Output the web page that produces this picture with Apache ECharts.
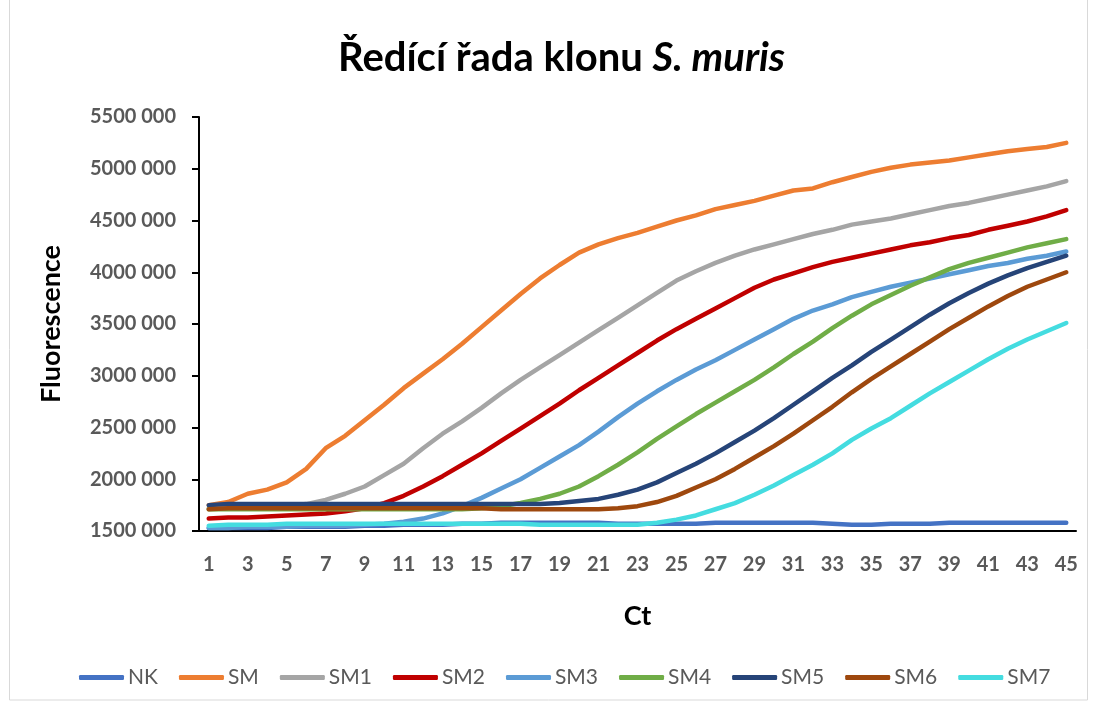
<!DOCTYPE html>
<html>
<head>
<meta charset="utf-8">
<title>Ředící řada klonu S. muris</title>
<script src="https://cdn.jsdelivr.net/npm/echarts@6/dist/echarts.min.js"></script>
<style>
  html, body { margin: 0; padding: 0; background: #fff; }
  #chart { width: 1094px; height: 706px; }
</style>
</head>
<body>
<div id="chart"></div>
<script>
// cycles 1..45
const cycles = Array.from({ length: 45 }, (_, i) => String(i + 1))

// fluorescence in millions
const NK = [1.53, 1.53, 1.53, 1.53, 1.54, 1.54, 1.54, 1.54, 1.55, 1.55, 1.56, 1.56, 1.56, 1.57, 1.57,
  1.58, 1.58, 1.58, 1.58, 1.58, 1.58, 1.57, 1.57, 1.57, 1.57, 1.57, 1.58, 1.58, 1.58, 1.58,
  1.58, 1.58, 1.57, 1.56, 1.56, 1.57, 1.57, 1.57, 1.58, 1.58, 1.58, 1.58, 1.58, 1.58, 1.58]
const SM = [1.75, 1.78, 1.86, 1.90, 1.97, 2.10, 2.30, 2.42, 2.57, 2.72, 2.88, 3.02, 3.16, 3.31, 3.47,
  3.63, 3.79, 3.94, 4.07, 4.19, 4.27, 4.33, 4.38, 4.44, 4.50, 4.55, 4.61, 4.65, 4.69, 4.74,
  4.79, 4.81, 4.87, 4.92, 4.97, 5.01, 5.04, 5.06, 5.08, 5.11, 5.14, 5.17, 5.19, 5.21, 5.25]
const SM1 = [1.72, 1.72, 1.73, 1.73, 1.74, 1.76, 1.80, 1.86, 1.93, 2.04, 2.15, 2.30, 2.44, 2.56, 2.69,
  2.83, 2.96, 3.08, 3.20, 3.32, 3.44, 3.56, 3.68, 3.80, 3.92, 4.01, 4.09, 4.16, 4.22, 4.27,
  4.32, 4.37, 4.41, 4.46, 4.49, 4.52, 4.56, 4.60, 4.64, 4.67, 4.71, 4.75, 4.79, 4.83, 4.88]
const SM2 = [1.62, 1.63, 1.63, 1.64, 1.65, 1.66, 1.67, 1.69, 1.72, 1.77, 1.84, 1.93, 2.03, 2.14, 2.25,
  2.37, 2.49, 2.61, 2.73, 2.86, 2.98, 3.10, 3.22, 3.34, 3.45, 3.55, 3.65, 3.75, 3.85, 3.93,
  3.99, 4.05, 4.10, 4.14, 4.18, 4.22, 4.26, 4.29, 4.33, 4.36, 4.41, 4.45, 4.49, 4.54, 4.60]
const SM3 = [1.53, 1.53, 1.54, 1.54, 1.54, 1.55, 1.55, 1.55, 1.56, 1.57, 1.59, 1.62, 1.67, 1.74, 1.82,
  1.91, 2.00, 2.11, 2.22, 2.33, 2.46, 2.60, 2.73, 2.85, 2.96, 3.06, 3.15, 3.25, 3.35, 3.45,
  3.55, 3.63, 3.69, 3.76, 3.81, 3.86, 3.90, 3.94, 3.98, 4.02, 4.06, 4.09, 4.13, 4.16, 4.20]
const SM4 = [1.71, 1.71, 1.71, 1.71, 1.71, 1.71, 1.71, 1.71, 1.71, 1.71, 1.71, 1.71, 1.71, 1.71, 1.72,
  1.74, 1.77, 1.81, 1.86, 1.93, 2.03, 2.14, 2.26, 2.39, 2.51, 2.63, 2.74, 2.85, 2.96, 3.08,
  3.21, 3.33, 3.46, 3.58, 3.69, 3.78, 3.87, 3.95, 4.03, 4.09, 4.14, 4.19, 4.24, 4.28, 4.32]
const SM5 = [1.75, 1.76, 1.76, 1.76, 1.76, 1.76, 1.76, 1.76, 1.76, 1.76, 1.76, 1.76, 1.76, 1.76, 1.76,
  1.76, 1.76, 1.76, 1.77, 1.79, 1.81, 1.85, 1.90, 1.97, 2.06, 2.15, 2.25, 2.36, 2.47, 2.59,
  2.72, 2.85, 2.98, 3.10, 3.23, 3.35, 3.47, 3.59, 3.70, 3.80, 3.89, 3.97, 4.04, 4.10, 4.16]
const SM6 = [1.71, 1.72, 1.72, 1.72, 1.72, 1.72, 1.72, 1.72, 1.72, 1.72, 1.72, 1.72, 1.72, 1.72, 1.72,
  1.71, 1.71, 1.71, 1.71, 1.71, 1.71, 1.72, 1.74, 1.78, 1.84, 1.92, 2.00, 2.10, 2.21, 2.32,
  2.44, 2.57, 2.70, 2.84, 2.97, 3.09, 3.21, 3.33, 3.45, 3.56, 3.67, 3.77, 3.86, 3.93, 4.00]
const SM7 = [1.55, 1.56, 1.56, 1.56, 1.57, 1.57, 1.57, 1.57, 1.57, 1.57, 1.57, 1.57, 1.57, 1.57, 1.57,
  1.57, 1.57, 1.56, 1.56, 1.56, 1.56, 1.56, 1.56, 1.58, 1.61, 1.65, 1.71, 1.77, 1.85, 1.94,
  2.04, 2.14, 2.25, 2.38, 2.49, 2.59, 2.71, 2.83, 2.94, 3.05, 3.16, 3.26, 3.35, 3.43, 3.51]

const seriesNames = ['NK', 'SM', 'SM1', 'SM2', 'SM3', 'SM4', 'SM5', 'SM6', 'SM7']
const seriesData = [NK, SM, SM1, SM2, SM3, SM4, SM5, SM6, SM7]
const colors = ['#4472C4', '#ED7D31', '#A5A5A5', '#C00000', '#5B9BD5', '#70AD47', '#264478', '#9E480E', '#44DCE0']

const font = 'Lato, "Open Sans", sans-serif'
const chart = echarts.init(document.getElementById('chart'))

const option = {
  animation: false,
  color: colors,
  title: {
    text: '{a|Ředící řada klonu }{b|S. muris}',
    left: 333,
    top: 33,
    textStyle: {
      rich: {
        a: { fontFamily: font, fontWeight: 'bold', fontSize: 40, color: '#000' },
        b: { fontFamily: font, fontWeight: 'bold', fontStyle: 'italic', fontSize: 40, color: '#000' }
      }
    }
  },
  legend: {
    data: seriesNames,
    bottom: 13,
    left: 74,
    icon: 'roundRect',
    itemWidth: 45,
    itemHeight: 5,
    itemGap: 21,
    textStyle: { fontFamily: font, fontSize: 21, color: '#595959', padding: [0, 0, 0, -1] }
  },
  grid: {
    left: 199,
    right: 18,
    top: 117,
    bottom: 175
  },
  xAxis: {
    type: 'category',
    data: cycles,
    name: 'Ct',
    nameLocation: 'middle',
    nameGap: 72,
    nameTextStyle: { fontFamily: font, fontWeight: 'bold', fontSize: 27, color: '#000' },
    axisLine: { lineStyle: { color: '#000', width: 2 } },
    axisTick: { show: false },
    axisLabel: {
      interval: 1,
      margin: 24,
      fontFamily: font,
      fontWeight: 'bold',
      fontSize: 20,
      color: '#595959'
    },
    splitLine: { show: false }
  },
  yAxis: {
    type: 'value',
    min: 1500000,
    max: 5500000,
    interval: 500000,
    name: 'Fluorescence',
    nameLocation: 'middle',
    nameGap: 134,
    nameTextStyle: { fontFamily: font, fontWeight: 'bold', fontSize: 27, color: '#000' },
    axisLine: { show: true, lineStyle: { color: '#000', width: 2 } },
    axisTick: { show: true, length: 7, lineStyle: { color: '#000', width: 2 } },
    axisLabel: {
      margin: 23,
      fontFamily: font,
      fontWeight: 'bold',
      fontSize: 20,
      color: '#595959',
      formatter: v => (v / 1000) + ' 000'
    },
    splitLine: { show: false }
  },
  series: seriesNames.map((name, i) => ({
    name: name,
    type: 'line',
    data: seriesData[i].map(v => Math.round(v * 1000000)),
    symbol: 'none',
    lineStyle: { width: 4.5, color: colors[i], cap: 'round', join: 'round' },
    itemStyle: { color: colors[i] }
  })),
  graphic: [{
    type: 'rect',
    shape: { x: 9.5, y: -5, width: 1078, height: 705 },
    style: { fill: 'none', stroke: '#d9d9d9', lineWidth: 1 },
    silent: true
  }]
}

chart.setOption(option)
</script>
</body>
</html>
